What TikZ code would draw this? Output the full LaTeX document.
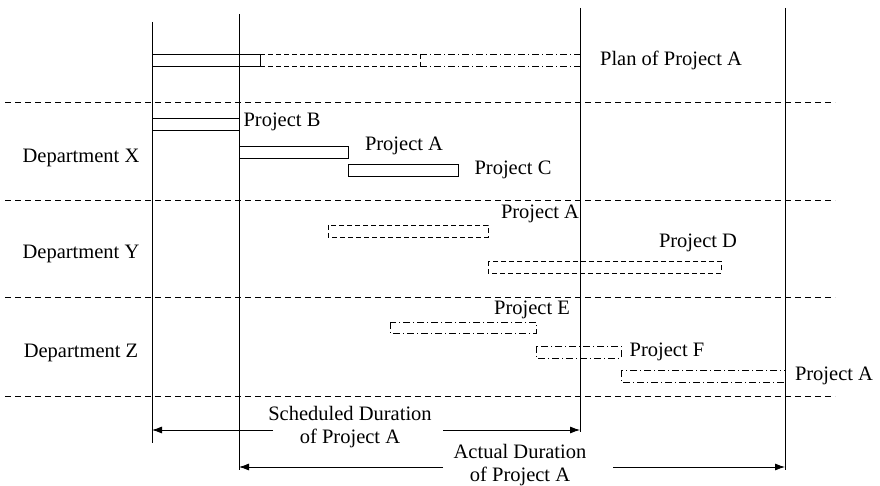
\documentclass[tikz,border=0pt]{standalone}
\usepackage{fontspec}
\setmainfont{Liberation Serif}
\usetikzlibrary{arrows.meta}
\begin{document}
\begin{tikzpicture}[x=1pt,y=-1pt,
  lbl/.style={font=\fontsize{20.5}{24}\selectfont, inner sep=1pt},
  two/.style={lbl, align=center, font=\fontsize{20.5}{23.5}\selectfont},
  thin/.style={line width=0.8pt},
  sep/.style={line width=0.8pt, dash pattern=on 6pt off 4pt},
  dsh/.style={line width=0.7pt, dash pattern=on 5pt off 3pt},
  dshdot/.style={line width=0.7pt, dash pattern=on 7pt off 3pt on 1pt off 3pt},
  dimarrow/.style={line width=0.8pt, -{Latex[length=10pt,width=7pt]}}]
\useasboundingbox (0,0) rectangle (880,486);

% time markers
\draw[thin] (152,22) -- (152,443);
\draw[thin] (239,14) -- (239,470);
\draw[thin] (580,8) -- (580,432);
\draw[thin] (785,8) -- (785,470);

% department separators
\foreach \y in {102,200,297,396}
  \draw[sep] (5,\y) -- (835,\y);

% plan of project A
\draw[thin] (152,54) rectangle (260,66);
\draw[dsh] (260,54) -- (420,54) (260,66) -- (420,66) (420,54) -- (420,66);
\draw[dshdot] (420,54) -- (580,54) (420,66) -- (580,66);
\node[lbl] (plan) at (671,60) {Plan of Project A};

% department X
\node[lbl] (dx) at (81,158) {Department X};
\draw[thin] (152,118) rectangle (239,130);
\node[lbl] (pb) at (282,122) {Project B};
\draw[thin] (239,146) rectangle (348,158);
\node[lbl] (pax) at (404,146) {Project A};
\draw[thin] (348,164) rectangle (458,176);
\node[lbl] (pc) at (513,170) {Project C};

% department Y
\node[lbl] (dy) at (81,254) {Department Y};
\draw[dsh] (328,225) rectangle (488,237);
\node[lbl] (pay) at (540,214) {Project A};
\draw[dsh] (488,261) rectangle (721,273);
\node[lbl] (pd) at (698,243) {Project D};

% department Z
\node[lbl] (dz) at (81,353) {Department Z};
\draw[dshdot] (390,322) rectangle (536,333);
\node[lbl] (pe) at (532,310) {Project E};
\draw[dshdot] (536,346) rectangle (621,358);
\node[lbl] (pf) at (667,352) {Project F};
\draw[dshdot] (621,370) rectangle (785,382);
\node[lbl] (paz) at (834,376) {Project A};

% durations
\node[two] (sched) at (350,427) {Scheduled Duration\\of Project A};
\coordinate (s0) at (152,430);
\coordinate (s1) at (273,430);
\coordinate (s2) at (443,430);
\coordinate (s3) at (580,430);
\draw[dimarrow] (s1) -- (s0);
\draw[dimarrow] (s2) -- (s3);

\node[two] (act) at (520,465) {Actual Duration\\of Project A};
\coordinate (a0) at (239,467);
\coordinate (a1) at (443,467);
\coordinate (a2) at (613,467);
\coordinate (a3) at (785,467);
\draw[dimarrow] (a1) -- (a0);
\draw[dimarrow] (a2) -- (a3);
\end{tikzpicture}
\end{document}
